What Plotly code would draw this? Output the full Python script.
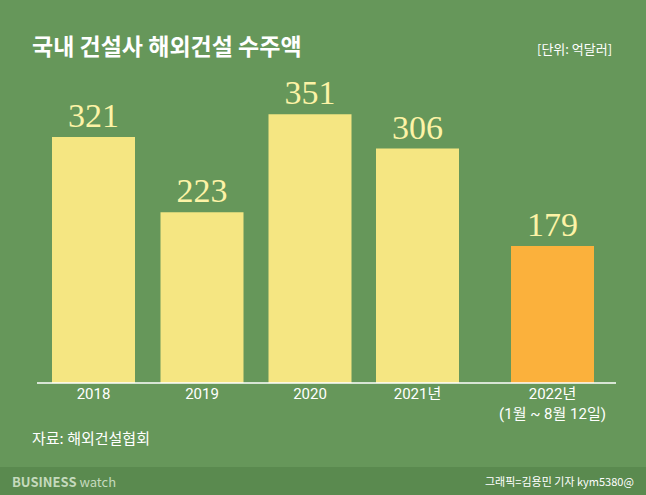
import plotly.graph_objects as go

years = ["2018", "2019", "2020", "2021년", "2022년<br>(1월 ~ 8월 12일)"]
values = [321, 223, 351, 306, 179]
xpos = [93.5, 202, 310, 417.5, 552.5]
colors = ["#f5e682"] * 4 + ["#fbb13c"]

fig = go.Figure(go.Bar(
    x=xpos, y=values, width=83, marker_color=colors, marker_line_width=0,
    text=[str(v) for v in values], textposition="outside", cliponaxis=False,
    textfont=dict(family="Liberation Serif, serif", size=34, color="#fdf3a6"),
))
fig.update_layout(
    width=646, height=495, margin=dict(l=0, r=0, t=0, b=112),
    paper_bgcolor="#66975a", plot_bgcolor="rgba(0,0,0,0)", showlegend=False,
    xaxis=dict(range=[0, 646], tickvals=xpos, ticktext=years, showgrid=False,
               zeroline=False, tickfont=dict(family="Roboto, Noto Sans CJK KR", size=15, color="white"),
               ticklen=0, fixedrange=True),
    yaxis=dict(range=[0, 500], visible=False, fixedrange=True),
    font=dict(family="Noto Sans CJK KR"),
    shapes=[
        dict(type="line", xref="paper", yref="paper", x0=37/646, x1=616/646, y0=0, y1=0,
             line=dict(color="white", width=1.5)),
        dict(type="rect", xref="paper", yref="paper", x0=0, x1=1, y0=-(495-383)/383,
             y1=-(467-383)/383, fillcolor="#5a8a4f", line_width=0, layer="below"),
    ],
    annotations=[
        dict(text="<b>국내 건설사 해외건설 수주액</b>", xref="paper", yref="paper", x=30/646,
             y=1, yshift=-45, xanchor="left", yanchor="middle", showarrow=False,
             font=dict(size=23, color="white")),
        dict(text="[단위: 억달러]", xref="paper", yref="paper", x=614/646, y=1, yshift=-48,
             xanchor="right", yanchor="middle", showarrow=False, font=dict(size=13, color="white")),
        dict(text="자료: 해외건설협회", xref="paper", yref="paper", x=30/646, y=0, yshift=-54,
             xanchor="left", yanchor="middle", showarrow=False, font=dict(size=15, color="white")),
        dict(text="<b>BUSINESS</b> watch", xref="paper", yref="paper", x=10/646, y=0, yshift=-98,
             xanchor="left", yanchor="middle", showarrow=False, font=dict(size=13, color="#c5dabd")),
        dict(text="그래픽=김용민 기자 kym5380@", xref="paper", yref="paper", x=636/646, y=0,
             yshift=-98, xanchor="right", yanchor="middle", showarrow=False,
             font=dict(size=11, color="white")),
    ],
)
fig.write_html("out.html", config={"displayModeBar": False},
               post_script="document.body.style.margin='0';document.body.style.overflow='hidden';")
